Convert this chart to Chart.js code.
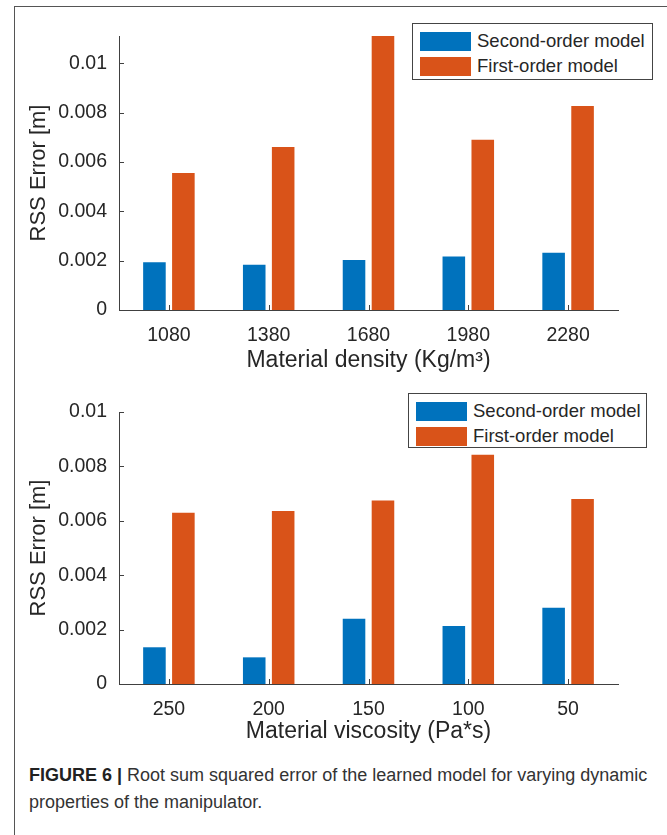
<!DOCTYPE html>
<html>
<head>
<meta charset="utf-8">
<script src="https://cdn.jsdelivr.net/npm/chart.js@4.4.1/dist/chart.umd.min.js"></script>
<style>
  html, body { margin:0; padding:0; background:#fff; }
  body { width:667px; height:835px; position:relative; overflow:hidden; font-family:'Liberation Sans', Arial, sans-serif; }
  #frame { position:absolute; left:14px; top:6px; width:700px; height:900px; border:1.5px solid #555; box-sizing:border-box; }
  canvas { position:absolute; left:0; }
  #c1 { top:0; }
  #c2 { top:380px; }
  .legend { position:absolute; background:#fff; border:1px solid #444; box-sizing:border-box; }
  .legend .row { position:absolute; left:7px; height:20px; display:flex; align-items:center; white-space:nowrap; }
  .legend .sw { width:51px; height:19px; margin-right:6px; }
  .legend .tx { font-size:18.5px; color:#262626; }
  #caption { position:absolute; left:29px; top:762px; font-size:18px; line-height:27px; color:#333; white-space:nowrap; }
  #caption b { color:#222; }
</style>
</head>
<body>
<div id="frame"></div>
<canvas id="c1" width="667" height="380"></canvas>
<canvas id="c2" width="667" height="380"></canvas>
<div id="leg1" class="legend" style="left:412px; top:23px; width:241px; height:57px;"></div>
<div id="leg2" class="legend" style="left:408px; top:393px; width:239px; height:55px;"></div>
<div id="caption"><b>FIGURE 6 |</b> Root sum squared error of the learned model for varying dynamic<br>properties of the manipulator.</div>
<script>
// ---- data ----
const seriesNames = ['Second-order model', 'First-order model'];
const seriesColors = ['#0072BD', '#D95319'];

const densityCategories = ['1080', '1380', '1680', '1980', '2280'];
const densitySecondOrder = [0.00193, 0.00183, 0.00203, 0.00217, 0.00232];
const densityFirstOrder  = [0.00555, 0.0066, 0.0111, 0.0069, 0.00826];

const viscosityCategories = ['250', '200', '150', '100', '50'];
const viscositySecondOrder = [0.00135, 0.00098, 0.0024, 0.00213, 0.0028];
const viscosityFirstOrder  = [0.0063, 0.00636, 0.00675, 0.00843, 0.0068];

const yTickValues = [0, 0.002, 0.004, 0.006, 0.008, 0.01];
const yTickLabels = ['0', '0.002', '0.004', '0.006', '0.008', '0.01'];

// ---- styling ----
const FONT = "'Liberation Sans', Arial, sans-serif";
const TXT = '#262626';

const inwardTicks = {
  id: 'inwardTicks',
  afterDatasetsDraw(chart) {
    const { ctx, chartArea: a, scales: { x, y } } = chart;
    ctx.save();
    ctx.strokeStyle = '#404040';
    ctx.lineWidth = 1;
    ctx.beginPath();
    y.ticks.forEach(t => {
      const py = Math.round(y.getPixelForValue(t.value)) + 0.5;
      ctx.moveTo(a.left, py); ctx.lineTo(a.left + 5, py);
    });
    x.ticks.forEach((t, i) => {
      const px = Math.round(x.getPixelForTick(i)) + 0.5;
      ctx.moveTo(px, a.bottom); ctx.lineTo(px, a.bottom - 5);
    });
    ctx.stroke();
    ctx.restore();
  }
};

function makeChart(id, cats, s2, s1, yMax, xTitle, padTop, xHeight, titleBottomPad) {
  return new Chart(document.getElementById(id), {
    type: 'bar',
    data: {
      labels: cats,
      datasets: [
        { label: seriesNames[0], data: s2, backgroundColor: seriesColors[0], borderWidth: 0,
          categoryPercentage: 0.58, barPercentage: 0.78 },
        { label: seriesNames[1], data: s1, backgroundColor: seriesColors[1], borderWidth: 0,
          categoryPercentage: 0.58, barPercentage: 0.78 }
      ]
    },
    options: {
      responsive: false,
      animation: false,
      devicePixelRatio: 1,
      layout: { padding: { top: padTop, right: 49, left: 0, bottom: 0 } },
      plugins: { legend: { display: false }, tooltip: { enabled: false } },
      scales: {
        x: {
          grid: { display: false, drawTicks: false },
          border: { display: true, color: '#404040', width: 1 },
          ticks: { font: { family: FONT, size: 19.5 }, color: TXT, padding: 14, maxRotation: 0, autoSkip: false },
          title: { display: true, text: xTitle, font: { family: FONT, size: 23 }, color: TXT,
                   padding: { top: 0, bottom: titleBottomPad } },
          afterFit(s) { s.height = xHeight; }
        },
        y: {
          min: 0, max: yMax,
          grid: { display: false, drawTicks: false },
          border: { display: true, color: '#404040', width: 1 },
          afterBuildTicks(s) { s.ticks = yTickValues.map(v => ({ value: v })); },
          ticks: { font: { family: FONT, size: 19.5 }, color: TXT, padding: 12,
                   callback: (v, i) => yTickLabels[i] },
          title: { display: true, text: 'RSS Error [m]', font: { family: FONT, size: 22 }, color: TXT,
                   padding: { top: 26, bottom: 0 } },
          afterFit(s) { s.width = 119; }
        }
      }
    },
    plugins: [inwardTicks]
  });
}

makeChart('c1', densityCategories, densitySecondOrder, densityFirstOrder, 0.0111,
          'Material density (Kg/m\u00B3)', 36, 70, 6);
makeChart('c2', viscosityCategories, viscositySecondOrder, viscosityFirstOrder, 0.01,
          'Material viscosity (Pa*s)', 32, 76, 15);

function buildLegend(id) {
  const el = document.getElementById(id);
  seriesNames.forEach((name, i) => {
    const row = document.createElement('div');
    row.className = 'row';
    row.style.top = (i === 0 ? 7 : 32) + 'px';
    const sw = document.createElement('div');
    sw.className = 'sw';
    sw.style.background = seriesColors[i];
    const tx = document.createElement('span');
    tx.className = 'tx';
    tx.textContent = name;
    row.appendChild(sw); row.appendChild(tx);
    el.appendChild(row);
  });
}
buildLegend('leg1');
buildLegend('leg2');
</script>
</body>
</html>
